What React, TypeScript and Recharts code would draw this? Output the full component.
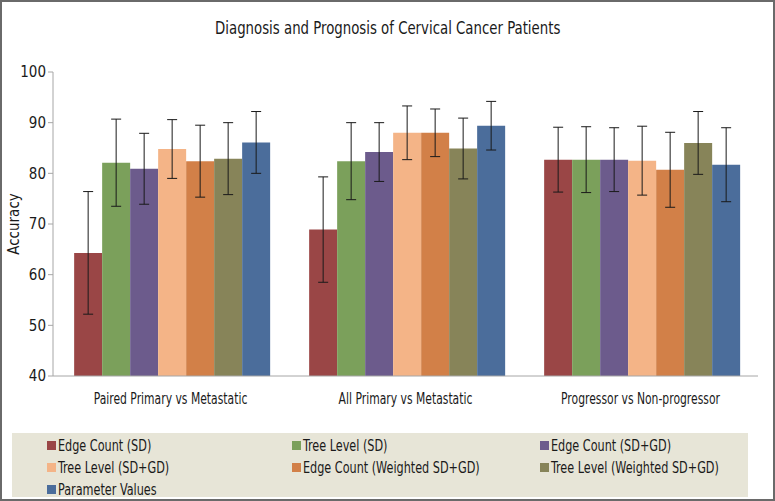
import React from 'react';
import { BarChart, Bar, XAxis, YAxis, ErrorBar, Legend } from 'recharts';

const categories = ['Paired Primary vs Metastatic', 'All Primary vs Metastatic', 'Progressor vs Non-progressor'];
const seriesNames = [
  'Edge Count (SD)',
  'Tree Level (SD)',
  'Edge Count (SD+GD)',
  'Tree Level (SD+GD)',
  'Edge Count (Weighted SD+GD)',
  'Tree Level (Weighted SD+GD)',
  'Parameter Values',
];
const seriesColors = ['#9a4646', '#7ba05b', '#6c5b8c', '#f4b487', '#d28048', '#878459', '#4b6d9b'];

const edgeCountSD = [64.3, 68.9, 82.7];
const treeLevelSD = [82.1, 82.4, 82.7];
const edgeCountSDGD = [80.9, 84.2, 82.7];
const treeLevelSDGD = [84.8, 88.0, 82.5];
const edgeCountWeighted = [82.4, 88.0, 80.7];
const treeLevelWeighted = [82.9, 84.9, 86.0];
const parameterValues = [86.1, 89.4, 81.7];

const edgeCountSDErr = [12.1, 10.4, 6.4];
const treeLevelSDErr = [8.6, 7.6, 6.5];
const edgeCountSDGDErr = [7.0, 5.8, 6.3];
const treeLevelSDGDErr = [5.8, 5.3, 6.8];
const edgeCountWeightedErr = [7.1, 4.7, 7.4];
const treeLevelWeightedErr = [7.1, 6.0, 6.2];
const parameterValuesErr = [6.1, 4.8, 7.3];

const yTicks = [40, 50, 60, 70, 80, 90, 100];

const seriesValues = [edgeCountSD, treeLevelSD, edgeCountSDGD, treeLevelSDGD, edgeCountWeighted, treeLevelWeighted, parameterValues];
const seriesErrors = [edgeCountSDErr, treeLevelSDErr, edgeCountSDGDErr, treeLevelSDGDErr, edgeCountWeightedErr, treeLevelWeightedErr, parameterValuesErr];

const data = categories.map((c, i) => {
  const row: any = { category: c };
  seriesValues.forEach((vals, s) => {
    row['s' + s] = vals[i];
    row['e' + s] = seriesErrors[s][i];
  });
  return row;
});

const FONT = '"Liberation Sans Narrow", "DejaVu Sans Condensed", "Open Sans", sans-serif';

const LegendContent = () => {
  return (
    <div
      style={{
        width: 736,
        height: 64,
        background: '#e7e5d7',
        boxSizing: 'border-box',
        padding: '1px 0 0 35px',
        display: 'grid',
        gridTemplateColumns: '245px 248px 200px',
        gridAutoRows: '22px',
        fontFamily: FONT,
        fontSize: 16,
        color: '#1a1a1a',
      }}
    >
      {seriesNames.map((name, s) => (
        <div key={name} style={{ display: 'flex', alignItems: 'center', whiteSpace: 'nowrap' }}>
          <span style={{ display: 'inline-block', width: 9, height: 9, background: seriesColors[s], marginRight: 2, flex: 'none' }} />
          <span style={{ display: 'inline-block', transform: 'scaleX(0.78)', transformOrigin: 'left center' }}>{name}</span>
        </div>
      ))}
    </div>
  );
};

const CategoryTick = (props: any) => {
  const { x, y, payload } = props;
  return (
    <g transform={`translate(${x},${y}) scale(0.8,1)`}>
      <text x={0} y={0} dy={22} textAnchor="middle" fill="#1a1a1a" fontSize={15} fontFamily={FONT}>
        {payload.value}
      </text>
    </g>
  );
};

export default function App() {
  return (
    <div
      style={{
        position: 'absolute',
        left: 0,
        top: 0,
        width: 775,
        height: 501,
        boxSizing: 'border-box',
        border: '2px solid #6a6a6a',
        background: '#ffffff',
        overflow: 'hidden',
      }}
    >
      <div
        style={{
          position: 'absolute',
          left: 0,
          top: 16,
          width: 771,
          textAlign: 'center',
          fontFamily: FONT,
          fontSize: 17,
          color: '#1a1a1a',
          transform: 'scaleX(0.87)',
          transformOrigin: '387px center',
        }}
      >
        Diagnosis and Prognosis of Cervical Cancer Patients
      </div>
      <div
        style={{
          position: 'absolute',
          left: 12,
          top: 222,
          transform: 'translate(-50%, -50%) rotate(-90deg)',
          fontFamily: FONT,
          fontSize: 15,
          color: '#1a1a1a',
          whiteSpace: 'nowrap',
        }}
      >
        Accuracy
      </div>
      <div style={{ position: 'absolute', left: -2, top: -2 }}>
        <BarChart
          width={775}
          height={501}
          data={data}
          margin={{ top: 72, right: 17, left: 23, bottom: 95 }}
          barCategoryGap="9%"
          barGap={0}
        >
          <XAxis
            xAxisId="bounds"
            type="number"
            domain={[0, 3]}
            ticks={[0, 1, 2, 3]}
            allowDataOverflow
            height={0}
            tick={false}
            axisLine={false}
            tickSize={5}
            tickLine={{ stroke: '#a6a6a6' }}
          />
          <XAxis
            dataKey="category"
            height={30}
            tickLine={false}
            axisLine={{ stroke: '#a6a6a6' }}
            tick={<CategoryTick />}
            tickMargin={0}
            interval={0}
          />
          <YAxis
            width={30}
            domain={[40, 100]}
            ticks={yTicks}
            allowDataOverflow
            axisLine={{ stroke: '#a6a6a6' }}
            tickLine={{ stroke: '#a6a6a6' }}
            tickSize={5}
            tick={{ fill: '#1a1a1a', fontSize: 15, fontFamily: FONT }}
          />
          <Legend
            layout="horizontal"
            verticalAlign="middle"
            align="center"
            wrapperStyle={{ position: 'absolute', left: 12, top: 433, width: 736, height: 64 }}
            content={LegendContent}
          />
          {seriesNames.map((name, s) => (
            <Bar
              key={name}
              dataKey={'s' + s}
              name={name}
              fill={seriesColors[s]}
              isAnimationActive={false}
            >
              <ErrorBar dataKey={'e' + s} width={5} stroke="#1a1a1a" strokeWidth={1} />
            </Bar>
          ))}
        </BarChart>
      </div>
    </div>
  );
}
